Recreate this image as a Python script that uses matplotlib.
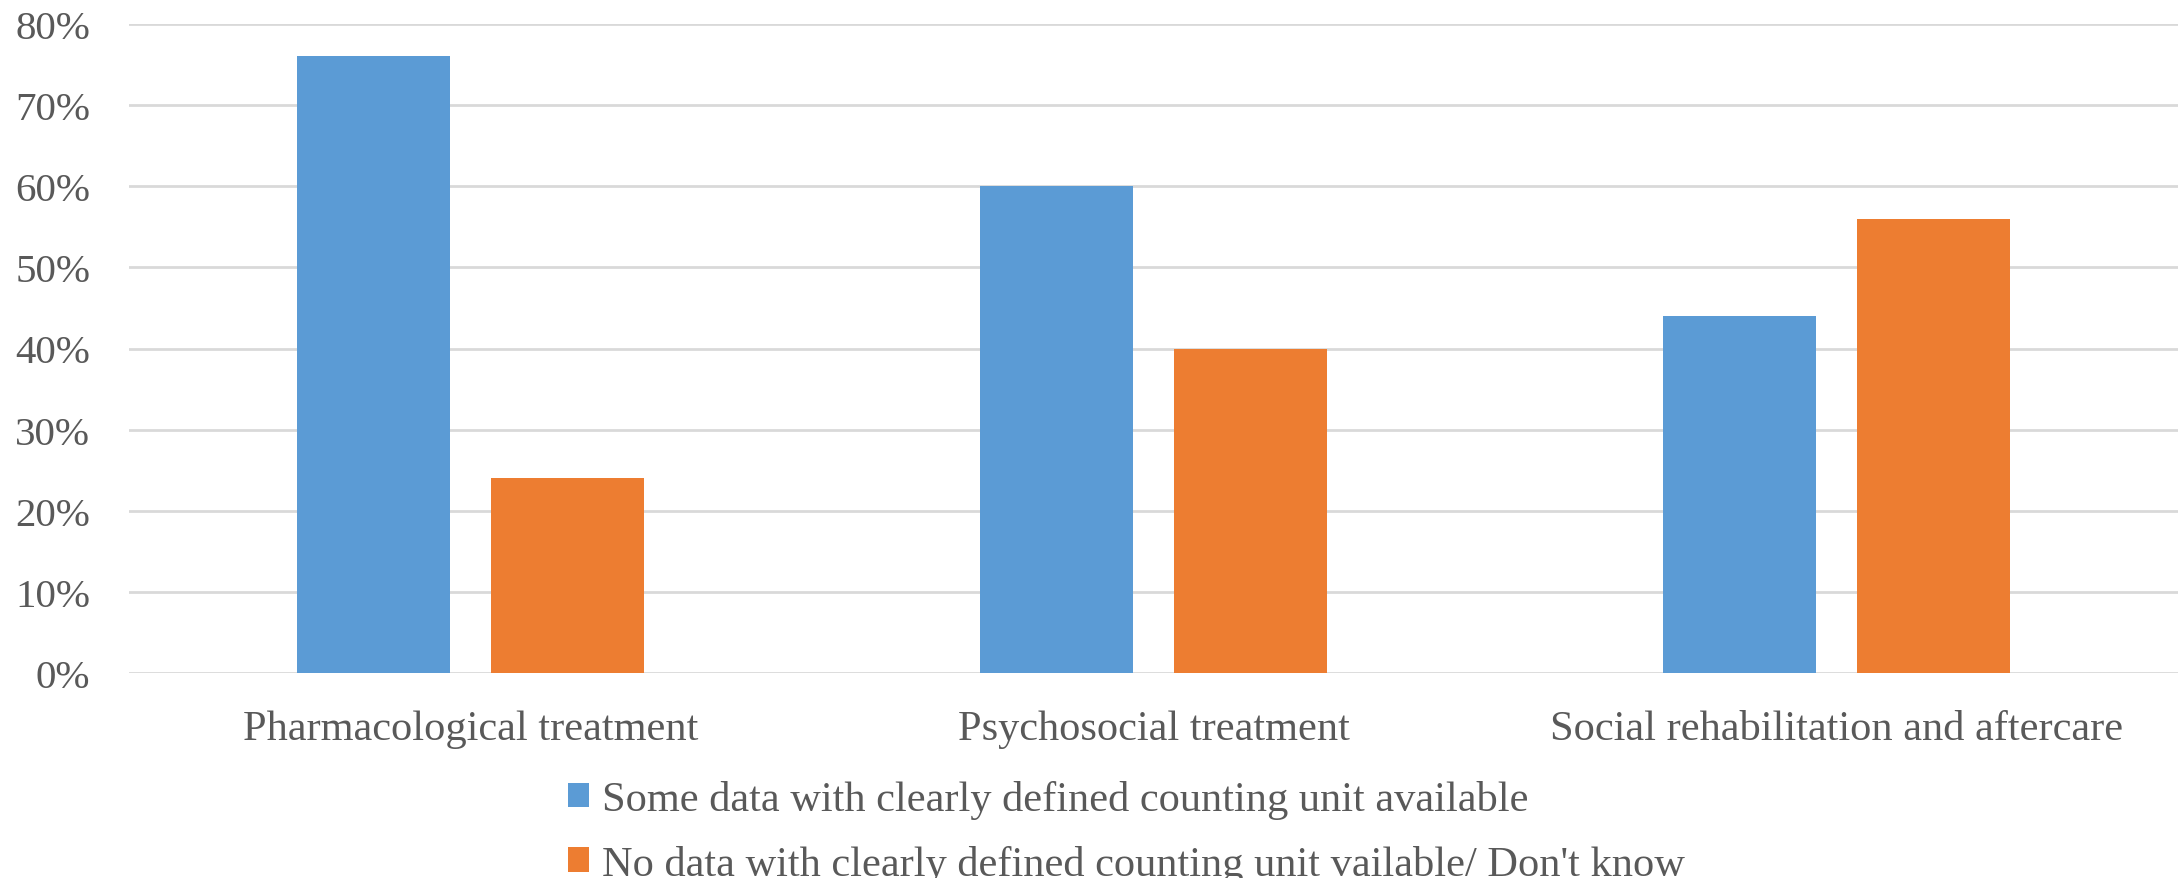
import matplotlib
matplotlib.use("Agg")
import matplotlib.pyplot as plt
import numpy as np
from matplotlib.ticker import PercentFormatter

categories = ["Pharmacological treatment", "Psychosocial treatment", "Social rehabilitation and aftercare"]
some_data = [0.76, 0.60, 0.44]
no_data = [0.24, 0.40, 0.56]
labels = ["Some data with clearly defined counting unit available",
          "No data with clearly defined counting unit vailable/ Don't know"]

blue = "#5B9BD5"
orange = "#ED7D31"
grey = "#595959"

plt.rcParams["font.family"] = ["Liberation Serif", "DejaVu Serif"]

fig = plt.figure(figsize=(21.8, 8.79), dpi=100)
ax = fig.add_axes([129/2180, 1-674/879, (2178-129)/2180, (674-25)/879])

x = np.arange(len(categories))
w = 0.224
off = 0.142
ax.bar(x - off, some_data, w, color=blue, label=labels[0], zorder=3)
ax.bar(x + off, no_data, w, color=orange, label=labels[1], zorder=3)

ax.set_xlim(-0.5, len(categories) - 0.5)
ax.set_ylim(0, 0.8)
ax.set_yticks(np.arange(0, 0.81, 0.1))
ax.yaxis.set_major_formatter(PercentFormatter(1.0, decimals=0))
ax.set_xticks(x)
ax.set_xticklabels(categories)
ax.grid(axis="y", color="#d9d9d9", linewidth=2, zorder=0)
for s in ax.spines.values():
    s.set_visible(False)
ax.tick_params(axis="both", length=0, colors=grey)
ax.tick_params(axis="y", pad=28, labelsize=29.5)
ax.tick_params(axis="x", pad=26, labelsize=30.5)

fig.legend(loc="upper left", bbox_to_anchor=(547/2180, 1-760/879), frameon=False,
           fontsize=30.5, labelcolor=grey, handlelength=0.5, handleheight=0.5,
           handletextpad=0.3, labelspacing=0.6, borderpad=0)

fig.savefig("out.png", dpi=100, facecolor="white")
